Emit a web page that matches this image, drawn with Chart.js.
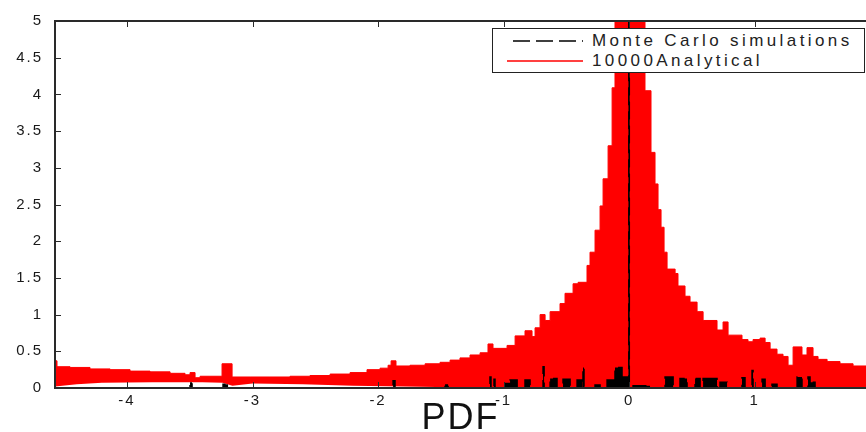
<!DOCTYPE html>
<html>
<head>
<meta charset="utf-8">
<script src="https://cdn.jsdelivr.net/npm/chart.js@4.4.1/dist/chart.umd.min.js"></script>
<style>
  body { margin: 0; background: #fff; }
  #wrap { position: relative; width: 866px; height: 432px; }
  #legend {
    position: absolute; left: 492px; top: 28px; width: 371px; height: 43px;
    border: 1px solid #222; background: #fff; color: #222;
    font-family: "Liberation Sans", Arial, sans-serif; font-size: 17px; letter-spacing: 3.4px;
  }
  .row { position: absolute; left: 0; height: 20px; display: flex; align-items: center; white-space: nowrap; }
  .row svg { margin-left: 14px; margin-right: 9px; }
</style>
</head>
<body>
<div id="wrap">
  <canvas id="pdfChart" width="866" height="432"></canvas>
  <div id="legend"></div>
</div>
<script>
// axis setup
const xMin = -4.574;
const xMax = 1.888;
const xTicks = [-4, -3, -2, -1, 0, 1];
const yTicks = [0, 0.5, 1, 1.5, 2, 2.5, 3, 3.5, 4, 4.5, 5];

const mcLabel = "Monte Carlo simulations";
const redLabel = "10000Analytical";

// red analytical curve: upper envelope (step starts + heights)
const redX = [
  -4.574, -4.558, -4.454, -4.295, -4.135, -3.976, -3.817, -3.657, -3.538, -3.498,
  -3.458, -3.418, -3.339, -3.243, -3.163, -3.020, -2.861, -2.701, -2.542, -2.382,
  -2.223, -2.088, -1.984, -1.920, -1.896, -1.857, -1.745, -1.625, -1.506, -1.426,
  -1.347, -1.267, -1.187, -1.124, -1.084, -1.028, -0.972, -0.908, -0.829, -0.773,
  -0.749, -0.709, -0.669, -0.629, -0.550, -0.510, -0.446, -0.406, -0.335, -0.311,
  -0.271, -0.231, -0.207, -0.167, -0.135, -0.112, 0.127, 0.175, 0.207, 0.231,
  0.255, 0.279, 0.303, 0.367, 0.390, 0.446, 0.486, 0.542, 0.590, 0.701,
  0.749, 0.789, 0.900, 0.948, 0.988, 1.044, 1.084, 1.124, 1.179, 1.227,
  1.267, 1.307, 1.378, 1.418, 1.466, 1.506, 1.578, 1.681, 1.785, 1.888
];
const redTop = [
  0.37, 0.29, 0.28, 0.26, 0.25, 0.23, 0.22, 0.20, 0.18, 0.21,
  0.14, 0.16, 0.16, 0.33, 0.15, 0.15, 0.15, 0.16, 0.17, 0.19,
  0.21, 0.25, 0.27, 0.31, 0.37, 0.30, 0.31, 0.33, 0.35, 0.38,
  0.41, 0.45, 0.48, 0.60, 0.54, 0.54, 0.58, 0.71, 0.78, 0.70,
  0.82, 1.00, 0.92, 1.04, 1.15, 1.29, 1.42, 1.44, 1.67, 1.85,
  2.15, 2.48, 2.85, 3.30, 4.09, 6.00, 4.05, 3.21, 2.78, 2.43,
  2.19, 1.85, 1.62, 1.56, 1.39, 1.25, 1.17, 1.04, 0.92, 0.79,
  0.90, 0.72, 0.66, 0.63, 0.66, 0.68, 0.62, 0.53, 0.46, 0.43,
  0.31, 0.56, 0.45, 0.55, 0.43, 0.39, 0.36, 0.33, 0.30, 0.30
];

// red lower envelope
const lowX = [-4.574, -4.40, -4.20, -3.80, -3.40, -3.24, -3.16, -3.00, -2.60, -2.20, -1.80, -1.40, -1.10, 1.888];
const lowY = [0.02, 0.05, 0.07, 0.08, 0.08, 0.07, 0.03, 0.06, 0.05, 0.03, 0.02, 0.01, 0, 0];

// monte carlo blocks
const mcStart = [-3.498, -3.235, -1.880, -1.466, -1.108, -1.076, -0.988, -0.948, -0.829, -0.685,
  -0.629, -0.526, -0.414, -0.367, -0.271, -0.175, -0.112, -0.056, -0.002, 0.032,
  0.287, 0.406, 0.526, 0.590, 0.725, 0.900, 0.980, 1.060, 1.139, 1.339, 1.426, 1.442];
const mcEnd = [-3.482, -3.195, -1.865, -1.442, -1.100, -1.068, -0.948, -0.892, -0.789, -0.677,
  -0.574, -0.470, -0.375, -0.359, -0.231, -0.112, -0.056, -0.004, 0.002, 0.167,
  0.351, 0.462, 0.566, 0.701, 0.781, 0.924, 0.988, 1.084, 1.179, 1.378, 1.442, 1.482];
const mcHeight = [0.08, 0.05, 0.10, 0.05, 0.15, 0.12, 0.06, 0.11, 0.11, 0.29,
  0.13, 0.12, 0.11, 0.28, 0.04, 0.11, 0.28, 0.15, 6, 0.03,
  0.15, 0.13, 0.13, 0.13, 0.08, 0.14, 0.24, 0.12, 0.05, 0.15, 0.15, 0.08];

const redPoints = redX.map((x, i) => ({ x: x, y: redTop[i] }));
const lowPoints = lowX.map((x, i) => ({ x: x, y: lowY[i] }));

const mcPoints = [{ x: xMin, y: 0 }];
mcStart.forEach((s, i) => {
    mcPoints.push({ x: s, y: mcHeight[i] });
    mcPoints.push({ x: mcEnd[i], y: 0 });
});
mcPoints.push({ x: xMax, y: 0 });

// matlab style box + inward ticks
const boxAxes = {
    id: "boxAxes",
    beforeDraw(chart) {
        chart.ctx.letterSpacing = "2px";
    },
    afterDatasetsDraw(chart) {
        const { ctx, chartArea: a, scales } = chart;
        ctx.save();
        ctx.strokeStyle = "#2a2a2a";
        ctx.lineWidth = 2;
        const L = Math.round(a.left), T = Math.round(a.top), B = Math.round(a.bottom), R = a.right;
        ctx.beginPath();
        ctx.moveTo(R, T); ctx.lineTo(L, T); ctx.lineTo(L, B); ctx.lineTo(R, B);
        ctx.stroke();
        ctx.lineWidth = 1;
        ctx.beginPath();
        xTicks.forEach((v) => {
            const px = Math.round(scales.x.getPixelForValue(v)) + 0.5;
            ctx.moveTo(px, B); ctx.lineTo(px, B - 6);
            ctx.moveTo(px, T); ctx.lineTo(px, T + 6);
        });
        yTicks.forEach((v) => {
            const py = Math.round(scales.y.getPixelForValue(v)) + 0.5;
            ctx.moveTo(L, py); ctx.lineTo(L + 6, py);
        });
        ctx.stroke();
        ctx.restore();
    }
};

const tickFont = { family: "'Liberation Sans', Arial, sans-serif", size: 15 };

const chart = new Chart(document.getElementById("pdfChart").getContext("2d"), {
    type: "line",
    data: {
        datasets: [
            {
                label: mcLabel,
                data: mcPoints,
                stepped: true,
                borderColor: "#000",
                backgroundColor: "#000",
                borderWidth: 1.5,
                borderDash: [18, 6],
                pointRadius: 0,
                fill: "origin",
            },
            {
                label: redLabel,
                data: redPoints,
                stepped: true,
                borderColor: "#ff0000",
                backgroundColor: "#ff0000",
                borderWidth: 1,
                pointRadius: 0,
                fill: "+1",
            },
            {
                label: "",
                data: lowPoints,
                borderColor: "rgba(0,0,0,0)",
                borderWidth: 0,
                pointRadius: 0,
                fill: false,
            }
        ],
    },
    options: {
        responsive: false,
        animation: false,
        events: [],
        layout: { padding: { top: 20, right: 0, left: 0, bottom: 0 } },
        scales: {
            x: {
                type: "linear",
                min: xMin,
                max: xMax,
                grid: { display: false, drawTicks: false },
                border: { display: false },
                ticks: { font: tickFont, color: "#1a1a1a", padding: 4, autoSkip: false, maxRotation: 0,
                    callback: (v) => String(v) },
                afterBuildTicks: (s) => { s.ticks = xTicks.map((v) => ({ value: v })); },
                afterFit: (s) => { s.height = 44; },
                title: {
                    display: true,
                    text: "PDF",
                    color: "#111",
                    font: { family: "'Liberation Sans', Arial, sans-serif", size: 36, lineHeight: 0.8 },
                    padding: { top: 0, bottom: -1 },
                },
            },
            y: {
                min: 0,
                max: 5,
                grid: { display: false, drawTicks: false },
                border: { display: false },
                ticks: { font: tickFont, color: "#1a1a1a", padding: 12, callback: (v) => String(v) },
                afterBuildTicks: (s) => { s.ticks = yTicks.map((v) => ({ value: v })); },
                afterFit: (s) => { s.width = 55; },
            },
        },
        plugins: {
            legend: { display: false },
            tooltip: { enabled: false },
        },
    },
    plugins: [boxAxes],
});

// legend kotak di pojok kanan atas
const legendRows = [
    { label: chart.data.datasets[0].label, color: "#000", dash: "17 6", top: 2 },
    { label: chart.data.datasets[1].label, color: "#ff0000", dash: "", top: 22 },
];
const legendEl = document.getElementById("legend");
legendRows.forEach((r) => {
    const row = document.createElement("div");
    row.className = "row";
    row.style.top = r.top + "px";
    row.innerHTML =
        '<svg width="76" height="6"><line x1="0" y1="3" x2="76" y2="3" stroke="' + r.color +
        '" stroke-width="1.6"' + (r.dash ? ' stroke-dasharray="' + r.dash + '" stroke-dashoffset="-6"' : "") +
        '/></svg><span>' + r.label + "</span>";
    legendEl.appendChild(row);
});
</script>
</body>
</html>
